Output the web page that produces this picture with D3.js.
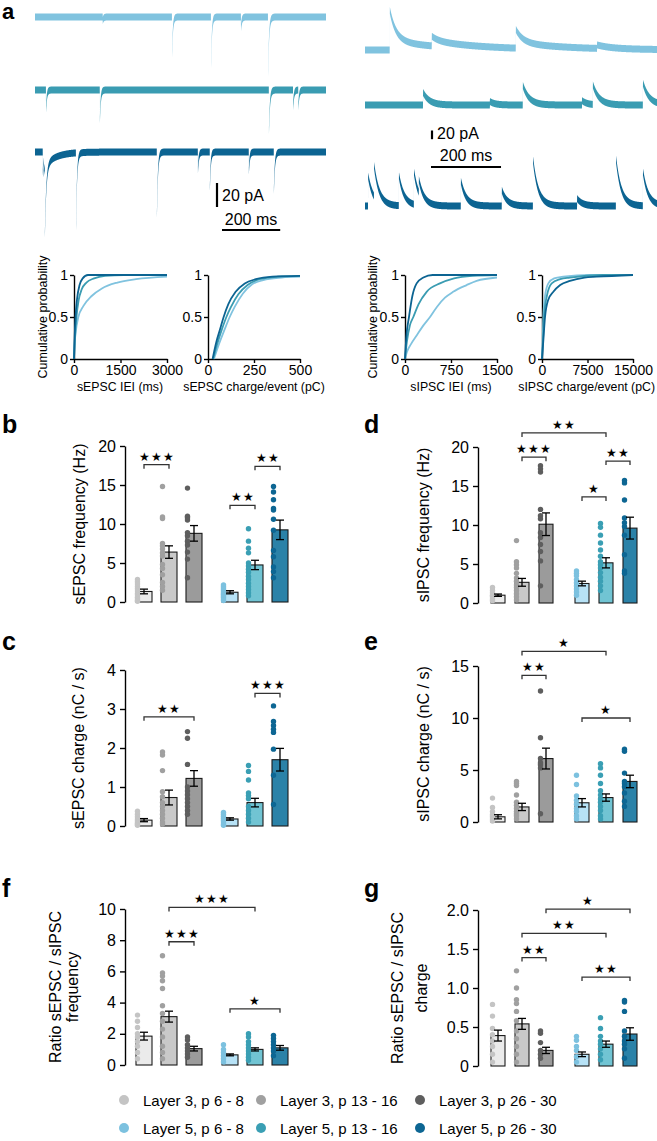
<!DOCTYPE html>
<html><head><meta charset="utf-8">
<script src="https://cdn.jsdelivr.net/npm/d3@7"></script>
<style>
body{margin:0;background:#fff}
text{font-family:"Liberation Sans",Arial,Helvetica,sans-serif;fill:#000}
</style></head>
<body><svg id="fig" width="657" height="1141"></svg>
<script>
// ---------------- DATA ----------------
const groups = ["Layer 3", "Layer 5"];
const ages = ["p 6 - 8", "p 13 - 16", "p 26 - 30"];
const legendLabels = ["Layer 3, p 6 - 8","Layer 3, p 13 - 16","Layer 3, p 26 - 30",
                      "Layer 5, p 6 - 8","Layer 5, p 13 - 16","Layer 5, p 26 - 30"];

// Panel a: example traces, events as [time ms, amplitude pA, decay ms]
const epscLight = [[233,3,3],[471,31,3],[605,40,3],[708,9,3],[801,47,3.5]];
const epscMid   = [[38,16,3],[223,25,3],[804,34,3.5],[887,14,3],[905,14,3]];
const epscDark  = [[27,17,3],[30,12,40],[34,56,5],[141,62,3.5],[419,52,3.5],[560,15,3],[601,30,3],[735,16,3],[821,32,3.5]];
const ipscLight = [[71,70,18],[71,21,150],[191,10,20],[191,12,150],[431,30,20],[431,13,150],[663,8,40]];
const ipscMid   = [[166,29,18],[357,8,15],[451,45,18],[620,10,15],[651,45,18],[794,50,18]];
const ipscDark  = [[9,69,15],[26,71,15],[97,69,15],[140,74,15],[154,30,15],[274,57,15],[391,36,15],[480,106,15],[606,17,15],[717,108,15],[794,78,15]];

// Cumulative distributions [x, p] for p6-8, p13-16, p26-30 (layer 5)
const cumEpscIei = [
  [[0,0],[15,0.15],[50,0.3],[140,0.5],[300,0.63],[570,0.75],[900,0.84],[1400,0.91],[2000,0.95],[3000,0.98]],
  [[0,0],[30,0.25],[80,0.5],[150,0.7],[250,0.83],[400,0.91],[650,0.96],[1000,0.99],[1600,1],[3000,1]],
  [[0,0],[20,0.25],[50,0.5],[100,0.72],[180,0.88],[280,0.96],[450,1],[3000,1]]];
const cumEpscCharge = [
  [[32,0],[60,0.18],[90,0.35],[118,0.5],[145,0.62],[190,0.78],[240,0.89],[300,0.94],[400,0.97],[500,0.98]],
  [[28,0],[50,0.18],[75,0.35],[100,0.5],[125,0.62],[165,0.77],[215,0.88],[280,0.95],[380,0.98],[500,0.99]],
  [[25,0],[45,0.2],[65,0.35],[85,0.5],[110,0.65],[150,0.8],[200,0.9],[260,0.95],[350,0.98],[500,0.99]]];
const cumIpscIei = [
  [[0,0],[30,0.08],[100,0.18],[190,0.28],[300,0.4],[408,0.5],[520,0.62],[652,0.73],[785,0.8],[1005,0.88],[1168,0.93],[1500,0.97]],
  [[0,0],[30,0.2],[80,0.4],[136,0.5],[220,0.65],[353,0.8],[570,0.9],[800,0.96],[1100,0.99],[1500,1]],
  [[0,0],[20,0.25],[65,0.5],[120,0.75],[190,0.9],[300,0.97],[450,1],[1500,1]]];
const cumIpscCharge = [
  [[0,0],[100,0.2],[220,0.5],[500,0.75],[1040,0.9],[2000,0.96],[3500,0.98],[8000,1],[15000,1]],
  [[0,0],[150,0.2],[330,0.5],[800,0.75],[1600,0.9],[3000,0.95],[4600,0.97],[10000,1],[15000,1]],
  [[0,0],[200,0.2],[500,0.5],[1000,0.7],[1870,0.8],[3000,0.88],[4600,0.93],[7000,0.97],[9000,0.98],[15000,1]]];

// Bar panels: means, SEM, individual cells, significance [from, to, level, stars]
const sepscFreqMean = [1.35, 6.4, 8.8, 1.25, 4.75, 9.25];
const sepscFreqSem  = [0.3, 0.8, 1.0, 0.2, 0.6, 1.25];
const sepscFreqDots = [
  [2.9,2.6,2.3,2.0,1.7,1.4,1.1,0.9,0.6,0.4,0.2,0.1],
  [14.8,10.9,10.7,7.5,7.2,6.8,6.3,5.9,4.8,4.3,3.5,2.5,2.0,1.5],
  [14.6,11.0,10.8,10.5,8.9,8.5,7.8,7.3,6.4,5.5,3.1],
  [2.2,2.0,1.8,1.6,1.4,1.2,1.0,0.8,0.6,0.4,0.2],
  [9.4,7.8,6.9,6.3,5.0,4.6,4.2,3.8,3.3,2.9,2.4,2.0,1.6,1.2,0.8],
  [14.8,14.1,13.1,12.0,11.8,10.6,9.2,6.6,5.8,4.5,3.9,3.1]];
const sepscFreqSig = [[0,1,17.6,"★★★"],[3,4,12.4,"★★"],[4,5,17.4,"★★"]];

const sepscChargeMean = [0.15, 0.73, 1.22, 0.18, 0.6, 1.7];
const sepscChargeSem  = [0.04, 0.19, 0.2, 0.03, 0.11, 0.29];
const sepscChargeDots = [
  [0.38,0.3,0.24,0.18,0.14,0.1,0.07,0.04,0.02],
  [1.9,1.82,1.42,0.88,0.75,0.6,0.5,0.4,0.3,0.2,0.1,0.05],
  [2.42,2.25,1.58,1.0,0.9,0.8,0.7,0.6,0.5,0.4,0.3],
  [0.35,0.3,0.25,0.2,0.15,0.1,0.05,0.02],
  [1.55,1.4,1.18,0.85,0.78,0.7,0.5,0.4,0.3,0.2,0.1],
  [3.08,2.68,2.58,2.48,2.4,1.97,1.3,0.55]];
const sepscChargeSig = [[0,2,2.8,"★★"],[4,5,3.4,"★★★"]];

const sipscFreqMean = [1.0, 2.65, 10.1, 2.5, 5.15, 9.6];
const sipscFreqSem  = [0.15, 0.5, 1.45, 0.3, 0.65, 1.4];
const sipscFreqDots = [
  [2.0,1.6,1.3,1.0,0.8,0.5,0.3],
  [8.0,5.3,4.9,4.5,3.8,3.2,2.8,2.3,2.0,1.6,1.2,0.8,0.4],
  [17.6,17.2,16.8,12.0,11.2,10.8,9.0,8.4,7.5,6.6,5.4,2.2],
  [4.1,3.8,3.5,3.0,2.6,2.2,1.8,1.4,1.0],
  [10.2,9.7,8.7,7.7,6.8,6.0,5.3,4.9,4.5,3.9,3.3,2.8,2.2,1.6],
  [15.7,15.4,13.2,10.9,10.3,9.8,8.7,6.2,4.1,3.8]];
const sipscFreqSig = [[1,4,21.8,"★★"],[1,2,18.7,"★★★"],[3,4,13.6,"★"],[4,5,18.2,"★★"]];

const sipscChargeMean = [0.5, 1.45, 6.1, 1.85, 2.35, 3.9];
const sipscChargeSem  = [0.2, 0.35, 1.0, 0.4, 0.35, 0.6];
const sipscChargeDots = [
  [2.3,1.4,1.0,0.7,0.5,0.3,0.1],
  [3.9,3.7,3.5,2.6,1.9,1.6,1.3,1.0,0.8,0.6,0.3],
  [12.6,8.1,6.1,5.7,5.5,5.2,0.8],
  [4.5,3.6,2.5,2.1,1.7,1.3,1.0,0.6,0.3],
  [5.6,5.2,4.5,3.7,3.0,2.6,2.2,1.9,1.5,1.1,0.6,0.3],
  [7.0,6.8,4.7,3.9,3.7,3.4,2.8,2.0,1.5]];
const sipscChargeSig = [[1,4,16.4,"★"],[1,2,14.1,"★★"],[3,5,10.0,"★"]];

const ratioFreqMean = [1.85, 3.1, 1.05, 0.65, 1.0, 1.1];
const ratioFreqSem  = [0.25, 0.35, 0.15, 0.06, 0.1, 0.15];
const ratioFreqDots = [
  [3.2,2.8,2.4,2.0,1.8,1.5,1.2,0.8,0.4],
  [7.0,5.9,5.7,5.4,4.9,3.8,3.3,2.8,2.3,1.8,1.2,0.8,0.4],
  [1.8,1.6,1.3,1.1,0.9,0.7,0.5],
  [1.3,1.0,0.8,0.6,0.4,0.2],
  [2.0,1.8,1.5,1.3,1.1,0.9,0.7,0.5,0.3],
  [1.9,1.7,1.5,1.3,1.1,0.9,0.6]];
const ratioFreqSig = [[1,4,10.1,"★★★"],[1,2,7.9,"★★★"],[3,5,3.6,"★"]];

const ratioChargeMean = [0.39, 0.54, 0.2, 0.15, 0.28, 0.41];
const ratioChargeSem  = [0.07, 0.07, 0.04, 0.03, 0.04, 0.08];
const ratioChargeDots = [
  [0.79,0.64,0.48,0.4,0.32,0.25,0.15,0.05],
  [1.22,1.0,0.85,0.8,0.7,0.58,0.45,0.35,0.25,0.15,0.05],
  [0.45,0.42,0.3,0.2,0.15,0.1],
  [0.38,0.33,0.25,0.2,0.12,0.05],
  [0.62,0.48,0.38,0.32,0.28,0.22,0.15,0.08],
  [0.84,0.82,0.7,0.45,0.38,0.32,0.28,0.22,0.1]];
const ratioChargeSig = [[2,5,2.01,"★"],[1,4,1.7,"★★"],[1,2,1.39,"★★"],[3,5,1.14,"★★"]];

// ---------------- STYLE ----------------
const barFill = ["#ebebeb","#c9c9c9","#9b9b9b","#b7e2f6","#71c4d3","#2b82a8"];
const dotFill = ["#c4c4c4","#a0a0a0","#5e5e5e","#7cc1df","#3a9fb4","#0d6693"];
const traceCol = ["#80c3df","#3a9cb2","#0c6492"];
const FONT = '"Liberation Sans",Arial,sans-serif';

const svg = d3.select("#fig");

function styleAxis(sel, fs) {
  sel.select(".domain").attr("stroke","#000").attr("stroke-width",1.4);
  sel.selectAll(".tick line").attr("stroke","#000").attr("stroke-width",1.4);
  sel.selectAll(".tick text").attr("font-size",fs).attr("font-family",FONT).attr("fill","#000");
}

// ---------------- PANEL LETTERS ----------------
[["a",2,19,22],["b",2,433,25],["c",2,650,25],["d",364,433,25],["e",364,650,25],["f",2,897,25],["g",364,897,25]].forEach(([t,x,y,fs])=>{
  svg.append("text").attr("x",x).attr("y",y).attr("font-size",fs).attr("font-weight","bold").text(t);
});

// ---------------- TRACES ----------------
// event kernel: instantaneous rise, exponential decay
function traceSamples(events, dur, step) {
  const pts = [];
  for (let t = 0; t <= dur; t += step) {
    let v = 0;
    for (const [t0,a,tau] of events) {
      if (t >= t0) v += a * Math.exp(-(t - t0)/tau);
    }
    pts.push([t, v]);
  }
  return pts;
}
function drawTrace(events, xs, ys, dur, h, color) {
  const pts = traceSamples(events, dur, 0.5);
  const area = d3.area().x(d=>xs(d[0])).y0(d=>ys(d[1])-h).y1(d=>ys(d[1])+h);
  svg.append("path").attr("d", area(pts)).attr("fill", color);
}
// left (sEPSC): downward, 1.2 px/pA, 0.291 px/ms
const tLeft = d3.scaleLinear().domain([0,1000]).range([35,326]);
[[epscLight,17],[epscMid,90],[epscDark,152]].forEach(([ev,base],i)=>{
  const ys = d3.scaleLinear().domain([0,100]).range([base, base+120]);
  drawTrace(ev, tLeft, ys, 1000, 3.5, traceCol[i]);
});
// right (sIPSC): upward, 0.435 px/pA, 0.35 px/ms
const tRight = d3.scaleLinear().domain([0,834]).range([365,657]);
[[ipscLight,50],[ipscMid,105],[ipscDark,206]].forEach(([ev,base],i)=>{
  const ys = d3.scaleLinear().domain([0,100]).range([base, base-43.5]);
  drawTrace(ev, tRight, ys, 834, 3.5, traceCol[i]);
});
// scale bars
function scaleBar(tScale, pxPerPA, vx, vy, hx, hy, tx1, ty1, tx2, ty2) {
  const vlen = 20*pxPerPA, hlen = tScale(200) - tScale(0);
  svg.append("line").attr("x1",vx).attr("x2",vx).attr("y1",vy).attr("y2",vy+vlen).attr("stroke","#000").attr("stroke-width",2.2);
  svg.append("line").attr("x1",hx).attr("x2",hx+hlen).attr("y1",hy).attr("y2",hy).attr("stroke","#000").attr("stroke-width",2);
  svg.append("text").attr("x",tx1).attr("y",ty1).attr("font-size",16).text("20 pA");
  svg.append("text").attr("x",tx2).attr("y",ty2).attr("font-size",16).attr("text-anchor","middle").text("200 ms");
}
scaleBar(tLeft, 1.2, 217, 183, 222, 230, 222, 201, 251, 225);
scaleBar(tRight, 0.435, 432, 130.5, 431, 167, 437, 139, 466, 161);

// ---------------- CUMULATIVE PANELS ----------------
function cumPanel(x0, x1, max, series, xlabel, ylabelX, labelPos) {
  const x = d3.scaleLinear().domain([0,max]).range([x0,x1]);
  const y = d3.scaleLinear().domain([0,1]).range([359,275]);
  const gy = svg.append("g").attr("transform",`translate(${x0},0)`)
    .call(d3.axisLeft(y).tickValues([0,0.5,1]).tickFormat(d=>d===0.5?"0.5":d3.format("d")(d)).tickSize(4).tickSizeOuter(0).tickPadding(2));
  styleAxis(gy, 14);
  const gx = svg.append("g").attr("transform",`translate(0,359)`)
    .call(d3.axisBottom(x).tickValues([0,max/2,max]).tickFormat(d3.format("d")).tickSize(4).tickSizeOuter(0).tickPadding(2));
  styleAxis(gx, 14);
  const line = d3.line().x(d=>x(d[0])).y(d=>y(d[1])).curve(d3.curveMonotoneX);
  series.forEach((s,i)=>{
    svg.append("path").attr("d",line(s)).attr("fill","none").attr("stroke",traceCol[i]).attr("stroke-width",1.8);
  });
  svg.append("text").attr("x",labelPos[0]).attr("y",391).attr("text-anchor",labelPos[1]).attr("font-size",12.3).text(xlabel);
  if (ylabelX) {
    svg.append("text").attr("transform",`translate(${ylabelX},317) rotate(-90)`).attr("text-anchor","middle")
      .attr("font-size",12.5).text("Cumulative probability");
  }
}
cumPanel(74, 167, 3000, cumEpscIei, "sEPSC IEI (ms)", 47, [120,"middle"]);
cumPanel(208, 300, 500, cumEpscCharge, "sEPSC charge/event (pC)", null, [254,"middle"]);
cumPanel(405, 497, 1500, cumIpscIei, "sIPSC IEI (ms)", 377, [451,"middle"]);
cumPanel(542, 633, 15000, cumIpscCharge, "sIPSC charge/event (pC)", null, [655,"end"]);

// ---------------- BAR PANELS ----------------
function barPanel(o) {
  const y = d3.scaleLinear().domain([0,o.max]).range([o.y0,o.y1]);
  const outer = d3.scaleBand().domain(groups).range(o.xr).paddingInner(o.gp).paddingOuter(0);
  const inner = d3.scaleBand().domain(ages).range([0,outer.bandwidth()]).paddingInner(o.ip).paddingOuter(0);
  const bx = i => outer(groups[Math.floor(i/3)]) + inner(ages[i%3]);
  const bw = inner.bandwidth();
  const g = svg.append("g");
  const ax = g.append("g").attr("transform",`translate(${o.ax},0)`)
    .call(d3.axisLeft(y).tickValues(o.ticks).tickFormat(o.fmt).tickSize(5).tickSizeOuter(0).tickPadding(4));
  styleAxis(ax, 16);
  g.selectAll("rect.bar").data(o.mean).join("rect").attr("class","bar")
    .attr("x",(d,i)=>bx(i)).attr("width",bw)
    .attr("y",d=>y(d)).attr("height",d=>y(0)-y(d))
    .attr("fill",(d,i)=>barFill[i]).attr("stroke","#1a1a1a").attr("stroke-width",1.1);
  o.dots.forEach((arr,i)=>{
    g.selectAll(null).data(arr).join("circle")
      .attr("cx",bx(i)+1.5).attr("cy",d=>y(d)).attr("r",2.7).attr("fill",dotFill[i]);
  });
  o.mean.forEach((m,i)=>{
    const cx = bx(i)+bw/2, s = o.sem[i], cw = 4;
    g.append("line").attr("x1",cx).attr("x2",cx).attr("y1",y(m+s)).attr("y2",y(m-s)).attr("stroke","#000").attr("stroke-width",1.3);
    [m+s,m-s].forEach(v=>g.append("line").attr("x1",cx-cw).attr("x2",cx+cw).attr("y1",y(v)).attr("y2",y(v)).attr("stroke","#000").attr("stroke-width",1.3));
  });
  o.sig.forEach(([a,b,v,s])=>{
    const xa = bx(a)+bw/2, xb = bx(b)+bw/2, yy = y(v);
    g.append("path").attr("d",`M${xa},${yy+4}V${yy}H${xb}V${yy+4}`).attr("fill","none").attr("stroke","#333").attr("stroke-width",1.3);
    g.append("text").attr("x",(xa+xb)/2).attr("y",yy-4).attr("text-anchor","middle")
      .attr("font-family","DejaVu Sans").attr("font-size",11.5).attr("letter-spacing",1).text(s);
  });
  o.label.forEach(([txt,lx])=>{
    g.append("text").attr("transform",`translate(${lx},${(o.y0+o.y1)/2}) rotate(-90)`)
      .attr("text-anchor","middle").attr("font-size",16).text(txt);
  });
}
const L = {ax:125, xr:[136,288], gp:20/86, ip:0.36};
const R = {ax:478, xr:[491,637], gp:22/84, ip:10/24};
const fmtInt = d3.format("d");
barPanel({...L, y0:602, y1:446, max:20, ticks:[0,5,10,15,20], fmt:fmtInt,
  mean:sepscFreqMean, sem:sepscFreqSem, dots:sepscFreqDots, sig:sepscFreqSig, label:[["sEPSC frequency (Hz)",85]]});
barPanel({...L, y0:826, y1:670, max:4, ticks:[0,1,2,3,4], fmt:fmtInt,
  mean:sepscChargeMean, sem:sepscChargeSem, dots:sepscChargeDots, sig:sepscChargeSig, label:[["sEPSC charge (nC / s)",84]]});
barPanel({...R, y0:603, y1:447, max:20, ticks:[0,5,10,15,20], fmt:fmtInt,
  mean:sipscFreqMean, sem:sipscFreqSem, dots:sipscFreqDots, sig:sipscFreqSig, label:[["sIPSC frequency (Hz)",429]]});
barPanel({...R, y0:822, y1:666, max:15, ticks:[0,5,10,15], fmt:fmtInt,
  mean:sipscChargeMean, sem:sipscChargeSem, dots:sipscChargeDots, sig:sipscChargeSig, label:[["sIPSC charge (nC / s)",429]]});
barPanel({...L, y0:1065, y1:909, max:10, ticks:[0,2,4,6,8,10], fmt:fmtInt,
  mean:ratioFreqMean, sem:ratioFreqSem, dots:ratioFreqDots, sig:ratioFreqSig,
  label:[["Ratio sEPSC / sIPSC",61],["frequency",78]]});
barPanel({...R, y0:1066, y1:910, max:2, ticks:[0,0.5,1,1.5,2], fmt:d=>d===0?"0":d3.format(".1f")(d),
  mean:ratioChargeMean, sem:ratioChargeSem, dots:ratioChargeDots, sig:ratioChargeSig,
  label:[["Ratio sEPSC / sIPSC",403],["charge",427]]});

// ---------------- LEGEND ----------------
const legX = [124, 261, 420];
const legY = [1100, 1128];
legendLabels.forEach((lab,i)=>{
  const cx = legX[i%3], cy = legY[Math.floor(i/3)];
  svg.append("circle").attr("cx",cx).attr("cy",cy).attr("r",5).attr("fill",dotFill[i]);
  svg.append("text").attr("x",cx+19).attr("y",cy+5.5).attr("font-size",15).text(lab);
});
</script></body></html>
